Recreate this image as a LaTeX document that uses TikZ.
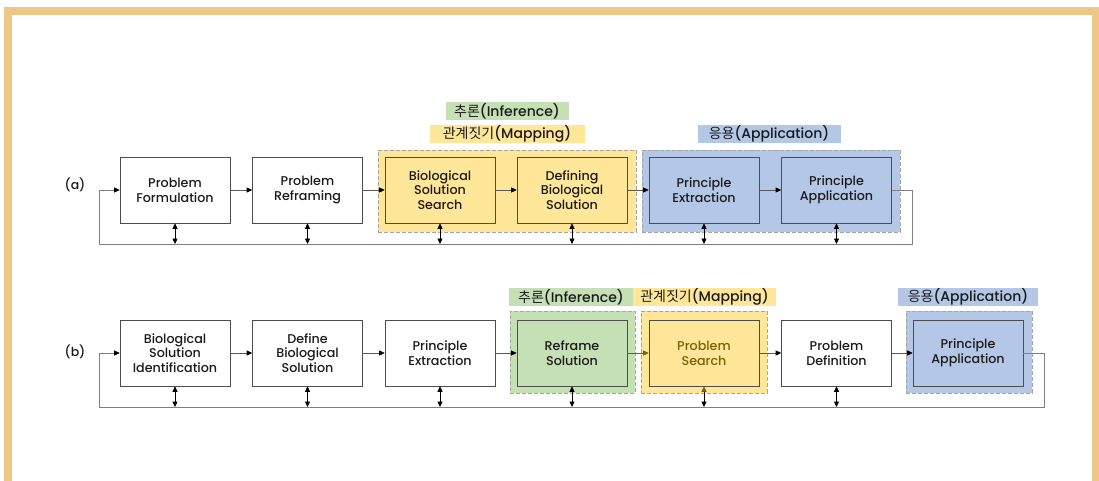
\documentclass[tikz,border=0pt]{standalone}
\usepackage{fontspec}
\setmainfont{Poppins}[UprightFont=* Medium]
\newfontfamily\kr{Noto Sans CJK KR}
\usetikzlibrary{arrows.meta}

\definecolor{framecol}{HTML}{EDC688}
\definecolor{mapfill}{HTML}{FFE699}
\definecolor{inffill}{HTML}{C5E0B4}
\definecolor{appfill}{HTML}{B4C7E7}
\definecolor{dashgray}{HTML}{A6A6A6}
\definecolor{boxline}{HTML}{4D4D4D}
\definecolor{linecol}{HTML}{595959}
\definecolor{fbcol}{HTML}{7F7F7F}
\definecolor{olive}{HTML}{7F6000}
\definecolor{txt}{HTML}{1A1A1A}

\tikzset{
  stepbox/.style={draw=boxline, line width=0.6pt, minimum width=110pt,
    minimum height=66pt, align=center, inner sep=0pt, text=txt,
    font=\fontsize{12.7}{14.8}\selectfont},
  groupbox/.style={draw=dashgray, dashed, dash pattern=on 4pt off 2pt,
    line width=0.9pt, minimum height=82pt, inner sep=0pt},
  tag/.style={minimum height=18pt, inner sep=0pt, text=txt,
    font=\fontsize{14}{15}\selectfont},
  rowlabel/.style={text=txt, font=\fontsize{12.5}{14}\selectfont},
  flow/.style={draw=linecol, line width=0.6pt, -{Triangle[length=5.5pt,width=5pt,color=black]}},
  fb/.style={draw=fbcol, line width=0.7pt, -{Triangle[length=5.5pt,width=5pt,color=black]}},
  both/.style={draw=black, line width=0.6pt,
    {Triangle[length=5.5pt,width=5pt]}-{Triangle[length=5.5pt,width=5pt]}}
}

\begin{document}
\begin{tikzpicture}[x=1pt,y=-1pt]
\useasboundingbox (0,0) rectangle (1099,481);

% page frame
\fill[framecol] (3.5,7) rectangle (1099,481);
\fill[white] (12,15) rectangle (1092,481);

% ---------------- row (a) ----------------
\node[rowlabel] (la) at (75,185) {(a)};

\node[tag, fill=inffill, minimum width=123pt] (tagAi) at (507,111) {{\kr 추론}(Inference)};
\node[tag, fill=mapfill, minimum width=155pt] (tagAm) at (507,134) {{\kr 관계짓기}(Mapping)};
\node[tag, fill=appfill, minimum width=143pt] (tagAa) at (769,134) {{\kr 응용}(Application)};

\node[groupbox, fill=mapfill, minimum width=258pt] (gAm) at (507,191) {};
\node[groupbox, fill=appfill, minimum width=258pt] (gAa) at (771,191) {};

\node[stepbox, fill=white]   (a1) at (175,190)   {Problem\\Formulation};
\node[stepbox, fill=white]   (a2) at (307.5,190) {Problem\\Reframing};
\node[stepbox, fill=mapfill] (a3) at (440,190)   {Biological\\Solution\\Search};
\node[stepbox, fill=mapfill] (a4) at (572,190)   {Defining\\Biological\\Solution};
\node[stepbox, fill=appfill] (a5) at (704,190)   {Principle\\Extraction};
\node[stepbox, fill=appfill] (a6) at (836.5,190) {Principle\\Application};

\coordinate (fbA) at (0,244);
\coordinate (fbAr) at (912,0);
\coordinate (fbAl) at (99,0);

\draw[flow] (a1) -- (a2);
\draw[flow] (a2) -- (a3);
\draw[flow] (a3) -- (a4);
\draw[flow] (a4) -- (a5);
\draw[flow] (a5) -- (a6);
\draw[fb] (a6.east) -- (a6.east -| fbAr) |- (fbA -| fbAl) |- (a1.west);
\foreach \n in {a1,a2,a3,a4,a5,a6}
  \draw[both] (\n.south) -- (\n.south |- fbA);

% ---------------- row (b) ----------------
\node[rowlabel] (lb) at (75,352) {(b)};

\node[tag, fill=inffill, minimum width=124pt] (tagBi) at (571,297) {{\kr 추론}(Inference)};
\node[tag, fill=mapfill, minimum width=143pt] (tagBm) at (704.5,297) {{\kr 관계짓기}(Mapping)};
\node[tag, fill=appfill, minimum width=140pt] (tagBa) at (968,297) {{\kr 응용}(Application)};

\node[groupbox, fill=inffill, minimum width=125pt] (gBi) at (572.5,352) {};
\node[groupbox, fill=mapfill, minimum width=126pt] (gBm) at (704,352) {};
\node[groupbox, fill=appfill, minimum width=126pt] (gBa) at (969,352) {};

\node[stepbox, fill=white]   (b1) at (175,353)   {Biological\\Solution\\Identification};
\node[stepbox, fill=white]   (b2) at (307.5,353) {Define\\Biological\\Solution};
\node[stepbox, fill=white]   (b3) at (440,353)   {Principle\\Extraction};
\node[stepbox, fill=inffill] (b4) at (572,353)   {Reframe\\Solution};
\node[stepbox, fill=mapfill, text=olive] (b5) at (704,353) {Problem\\Search};
\node[stepbox, fill=white]   (b6) at (836.5,353) {Problem\\Definition};
\node[stepbox, fill=appfill] (b7) at (968,353)   {Principle\\Application};

\coordinate (fbB) at (0,407);
\coordinate (fbBr) at (1044,0);
\coordinate (fbBl) at (99,0);

\draw[flow] (b1) -- (b2);
\draw[flow] (b2) -- (b3);
\draw[flow] (b3) -- (b4);
\draw[draw=olive, line width=0.6pt, -{Triangle[length=5.5pt,width=5pt,color=olive]}] (b4) -- (b5);
\draw[flow] (b5) -- (b6);
\draw[flow] (b6) -- (b7);
\draw[fb] (b7.east) -- (b7.east -| fbBr) |- (fbB -| fbBl) |- (b1.west);
\foreach \n in {b1,b2,b3,b4,b6}
  \draw[both] (\n.south) -- (\n.south |- fbB);
\draw[draw=black, line width=0.6pt,
  {Triangle[length=5.5pt,width=5pt,color=olive]}-{Triangle[length=5.5pt,width=5pt]}]
  (b5.south) -- (b5.south |- fbB);
\end{tikzpicture}
\end{document}
